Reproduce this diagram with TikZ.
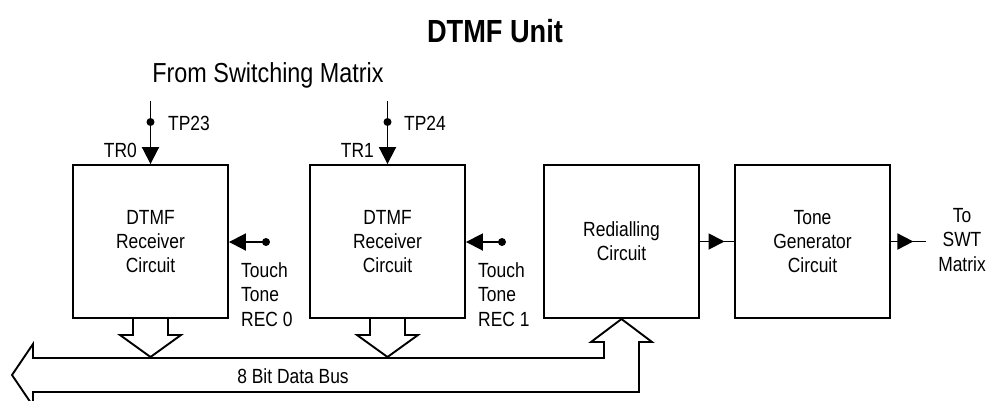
\documentclass[tikz,border=0pt]{standalone}
\usepackage{fontspec}
\setmainfont{Liberation Sans}[FakeStretch=0.85]
\usetikzlibrary{arrows.meta,decorations.markings}
\tikzset{
  blk/.style={draw, line width=1.9pt, minimum width=155pt, minimum height=153pt,
    align=center, inner sep=0pt, font=\fontsize{20.5}{24}\selectfont},
  lbl/.style={inner sep=0pt, font=\fontsize{20.5}{24.5}\selectfont},
  wire/.style={line width=1.9pt},
  tri/.style={-{Triangle[length=17pt,width=17pt]}},
  dotnode/.style={circle, fill, inner sep=0pt, minimum size=8pt},
  hollow/.style={line width=1.9pt, line join=miter},
  midtip/.style={postaction={decorate}, decoration={markings,
    mark=at position #1 with {\arrow{Triangle[length=16pt,width=16pt]}}}}
}
\begin{document}
\begin{tikzpicture}[x=1pt,y=-1pt]
\useasboundingbox (0,0) rectangle (986,400);
\clip (0,0) rectangle (986,400);

% title texts
\node[anchor=base, inner sep=0pt, font=\bfseries\fontsize{32}{36}\selectfont] (title) at (495,42) {DTMF Unit};
\node[anchor=base, inner sep=0pt, font=\fontsize{27.5}{30}\selectfont] (fsm) at (268,82) {From Switching Matrix};

% blocks
\node[blk] (rx0) at (150.5,241.5) {DTMF\\Receiver\\Circuit};
\node[blk] (rx1) at (387.5,241.5) {DTMF\\Receiver\\Circuit};
\node[blk] (red) at (621.5,241.5) {Redialling\\Circuit};
\node[blk] (tone) at (812.5,241.5) {Tone\\Generator\\Circuit};

% inputs from switching matrix
\coordinate (in0) at (150.5,101);
\node[dotnode] (d0) at (150.5,122) {};
\draw[wire] (in0) -- (d0.center);
\draw[wire,tri] (d0.center) -- (rx0.north);
\node[lbl, anchor=base west] (tp23) at (168,130) {TP23};
\node[lbl, anchor=base east] (tr0) at (137,157) {TR0};

\coordinate (in1) at (387.5,101);
\node[dotnode] (d1) at (387.5,122) {};
\draw[wire] (in1) -- (d1.center);
\draw[wire,tri] (d1.center) -- (rx1.north);
\node[lbl, anchor=base west] (tp24) at (404,130) {TP24};
\node[lbl, anchor=base east] (tr1) at (374,157) {TR1};

% touch tone inputs
\node[dotnode] (t0) at (266,242) {};
\draw[wire,tri] (t0.center) -- (t0.center -| rx0.east);
\node[lbl, anchor=north west, align=left] (tt0) at (241,262) {Touch\\Tone\\REC 0};

\node[dotnode] (t1) at (502,242) {};
\draw[wire,tri] (t1.center) -- (t1.center -| rx1.east);
\node[lbl, anchor=north west, align=left] (tt1) at (478,262) {Touch\\Tone\\REC 1};

% redialling -> tone generator -> output
\draw[wire, midtip=0.72] (red.east) -- (tone.west);
\coordinate (out) at (926,241.5);
\draw[wire, midtip=0.64] (tone.east) -- (out);
\node[lbl, anchor=north, align=center] (swt) at (962,208) {To\\SWT\\Matrix};

% hollow bus arrows from receivers
\draw[hollow] (133,319) -- (133,335) -- (120,335) -- (150.5,357) -- (181,335) -- (168,335) -- (168,319);
\draw[hollow] (370,319) -- (370,335) -- (357,335) -- (387.5,357) -- (418,335) -- (405,335) -- (405,319);

% data bus with arrow into redialling circuit
\draw[hollow] (621.5,319) -- (652,342) -- (639,342) -- (639,392) -- (33,392) -- (33,406)
  -- (12,375) -- (33,344) -- (33,358) -- (604,358) -- (604,342) -- (591,342) -- cycle;
\node[lbl, anchor=base] (bus) at (293,383) {8 Bit Data Bus};
\end{tikzpicture}
\end{document}
